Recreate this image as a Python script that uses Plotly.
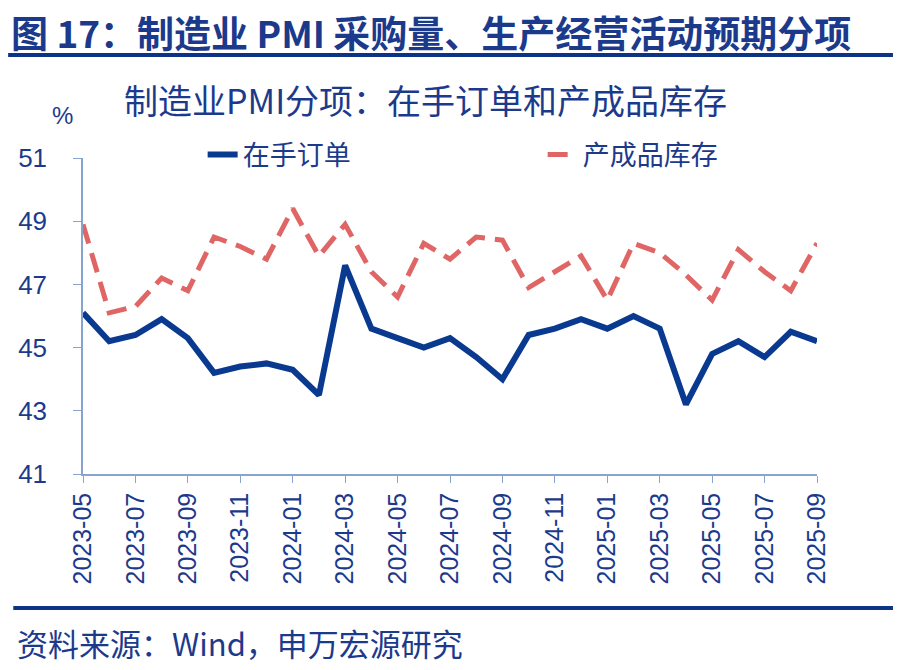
import plotly.graph_objects as go

months = [
    "2023-05", "2023-06", "2023-07", "2023-08", "2023-09", "2023-10", "2023-11", "2023-12",
    "2024-01", "2024-02", "2024-03", "2024-04", "2024-05", "2024-06", "2024-07", "2024-08",
    "2024-09", "2024-10", "2024-11", "2024-12", "2025-01", "2025-02", "2025-03", "2025-04",
    "2025-05", "2025-06", "2025-07", "2025-08", "2025-09",
]

# 在手订单
backlog = [
    46.1, 45.2, 45.4, 45.9, 45.3, 44.2, 44.4, 44.5,
    44.3, 43.5, 47.6, 45.6, 45.3, 45.0, 45.3, 44.7,
    44.0, 45.4, 45.6, 45.9, 45.6, 46.0, 45.6, 43.2,
    44.8, 45.2, 44.7, 45.5, 45.2,
]

# 产成品库存
inventory = [
    48.9, 46.1, 46.3, 47.2, 46.8, 48.5, 48.2, 47.8,
    49.4, 47.9, 48.9, 47.4, 46.6, 48.3, 47.8, 48.5,
    48.4, 46.9, 47.4, 47.9, 46.5, 48.3, 48.0, 47.3,
    46.5, 48.1, 47.4, 46.8, 48.3,
]

tick_months = months[::2]
y_ticks = [41, 43, 45, 47, 49, 51]

NAVY = "#1c3a8c"
BLUE = "#0a3a90"
RED = "#e06666"
AXIS = "#86a4cc"
CJK = "Noto Sans CJK SC"
LATIN = "Liberation Sans, Noto Sans CJK SC"

fig = go.Figure()

fig.add_trace(
    go.Scatter(
        x=months,
        y=backlog,
        mode="lines",
        name="在手订单",
        line=dict(color=BLUE, width=6),
    )
)

fig.add_trace(
    go.Scatter(
        x=months,
        y=inventory,
        mode="lines",
        name="产成品库存",
        line=dict(color=RED, width=5, dash="20px,10px"),
    )
)

fig.update_xaxes(
    type="category",
    range=[0, len(months) - 1],
    tickvals=tick_months,
    tickangle=-90,
    ticks="outside",
    ticklen=7,
    tickcolor=AXIS,
    showline=True,
    linecolor=AXIS,
    linewidth=1.5,
    showgrid=False,
    tickfont=dict(family=LATIN, size=25, color=NAVY),
)

fig.update_yaxes(
    range=[41, 51],
    tickvals=y_ticks,
    ticks="outside",
    ticklen=8,
    tickcolor=AXIS,
    showline=True,
    linecolor=AXIS,
    linewidth=1.5,
    showgrid=False,
    zeroline=False,
    tickfont=dict(family=LATIN, size=26, color=NAVY),
    ticklabelstandoff=21,
)

fig.update_layout(
    width=903,
    height=670,
    margin=dict(l=83, r=86, t=158, b=196),
    paper_bgcolor="white",
    plot_bgcolor="white",
    showlegend=True,
    legend=dict(
        orientation="h",
        x=0.163,
        xanchor="left",
        y=1.01,
        yanchor="middle",
        entrywidth=295,
        font=dict(family=CJK, size=27, color=NAVY),
        bgcolor="rgba(0,0,0,0)",
    ),
    annotations=[
        dict(
            text="<b>图 17：制造业 PMI 采购量、生产经营活动预期分项</b>",
            xref="paper", yref="paper", x=-0.101, y=1.399,
            xanchor="left", yanchor="middle", showarrow=False,
            font=dict(family=CJK, size=37, color=NAVY),
        ),
        dict(
            text="制造业PMI分项：在手订单和产成品库存",
            xref="paper", yref="paper", x=0.466, y=1.184,
            xanchor="center", yanchor="middle", showarrow=False,
            font=dict(family=CJK, size=34, color=NAVY),
        ),
        dict(
            text="%",
            xref="paper", yref="paper", x=-0.0286, y=1.133,
            xanchor="center", yanchor="middle", showarrow=False,
            font=dict(family=LATIN, size=24, color=NAVY),
        ),
        dict(
            text="资料来源：Wind，申万宏源研究",
            xref="paper", yref="paper", x=-0.0926, y=-0.532,
            xanchor="left", yanchor="middle", showarrow=False,
            font=dict(family=CJK, size=31, color=NAVY),
        ),
    ],
    shapes=[
        dict(
            type="line", xref="paper", yref="paper",
            x0=-0.102, x1=1.1035, y0=1.326, y1=1.326,
            line=dict(color="#0d3386", width=4),
        ),
        dict(
            type="line", xref="paper", yref="paper",
            x0=-0.095, x1=1.1035, y0=-0.424, y1=-0.424,
            line=dict(color="#0d3386", width=4),
        ),
    ],
)

# the page keeps the browser's default body margin otherwise
fig.write_html(
    "out.html",
    config={"displayModeBar": False},
    post_script="document.body.style.margin='0';",
)
